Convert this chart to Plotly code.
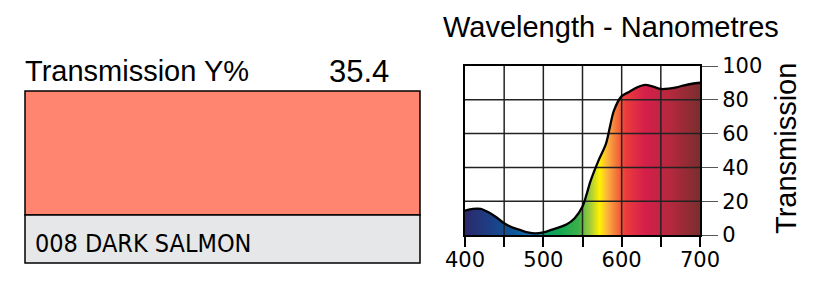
import plotly.graph_objects as go

W, H = 827, 283

# ---- data ----
wavelength = [400, 410, 420, 430, 440, 450, 460, 470, 480, 490, 500, 510, 520, 530, 540,
              550, 555, 560, 570, 580, 590, 600, 610, 620, 630, 640, 650, 660, 670, 680, 690, 700]
transmission = [14.4, 15.4, 15.4, 13.4, 10.5, 6.9, 4.5, 3.0, 1.6, 1.0, 1.6, 3.0, 4.5, 6.3, 9.9,
                 16.8, 23.7, 31.6, 43.6, 54.0, 73.5, 82.2, 84.8, 87.4, 88.8, 87.8, 86.4, 86.6, 87.4, 88.6, 89.5, 90.1]
x_tick_labels = [400, 500, 600, 700]
y_tick_labels = [0, 20, 40, 60, 80, 100]
grid_x = [450, 500, 550, 600, 650]
grid_y = [20, 40, 60, 80]

filter_name = "008 DARK SALMON"
y_percent = "35.4"
swatch_color = "#FF8571"

# spectrum colours (wavelength -> colour)
spec_nm = [400, 430, 460, 490, 502, 520, 545, 560, 572, 582, 595, 605, 630, 660, 700]
spec_col = ["#2b2a6a", "#1e3d85", "#0d5597", "#0b77bb", "#0a9a6a", "#10a650", "#3cb049",
            "#a5cd3a", "#fff200", "#fbb040", "#f26b3a", "#ec3c3c", "#d41f4a", "#b8283e", "#7a2e2e"]
colorscale = [[(n - 400) / 300, c] for n, c in zip(spec_nm, spec_col)]

fig = go.Figure()

fig.add_trace(go.Scatter(
    x=wavelength, y=transmission, mode="lines",
    line=dict(shape="spline", smoothing=0.8, width=0, color="rgba(0,0,0,0)"),
    fill="tozeroy",
    fillgradient=dict(type="horizontal", colorscale=colorscale, start=400, stop=700),
    hoverinfo="skip", showlegend=False))

# grid lines drawn over the fill
gx, gy = [], []
for v in grid_x:
    gx += [v, v, None]
    gy += [0, 100, None]
for v in grid_y:
    gx += [400, 700, None]
    gy += [v, v, None]
fig.add_trace(go.Scatter(x=gx, y=gy, mode="lines", line=dict(color="#222222", width=1.5),
                         hoverinfo="skip", showlegend=False))

fig.add_trace(go.Scatter(
    x=wavelength, y=transmission, mode="lines",
    line=dict(shape="spline", smoothing=0.8, width=2.3, color="black"),
    hoverinfo="skip", showlegend=False))

def px(x):
    return x / W

def py(y):
    return 1 - y / H

tick_font = dict(family="DejaVu Sans", size=21, color="black")

fig.update_layout(
    width=W, height=H, margin=dict(l=0, r=0, t=0, b=0, pad=0, autoexpand=False),
    paper_bgcolor="white", plot_bgcolor="white",
    xaxis=dict(domain=[px(465), px(700)], range=[400, 700], showgrid=False, zeroline=False,
               automargin=False,
               showline=True, linecolor="black", linewidth=2, mirror=True,
               tickmode="array", tickvals=x_tick_labels, ticktext=[str(v) for v in x_tick_labels],
               ticks="outside", ticklen=10, tickwidth=1.5, tickcolor="black",
               minor=dict(ticks="outside", ticklen=10, tickwidth=1.5, tickcolor="black",
                          tickmode="array", tickvals=grid_x),
               ticklabelstandoff=-5,
               tickfont=tick_font, fixedrange=True),
    yaxis=dict(domain=[py(235), py(66)], range=[0, 100], side="right", showgrid=False, zeroline=False,
               automargin=False,
               showline=True, linecolor="black", linewidth=2, mirror=True,
               tickmode="array", tickvals=y_tick_labels, ticktext=[str(v) for v in y_tick_labels],
               ticks="outside", ticklen=16, tickwidth=1, tickcolor="#555555",
               tickfont=tick_font, fixedrange=True),
    font=dict(family="Liberation Sans", color="black"),
)

# left panel: swatch and name box
fig.add_shape(type="rect", xref="paper", yref="paper", x0=px(25), x1=px(420), y0=py(215), y1=py(91),
              fillcolor=swatch_color, line=dict(color="black", width=1.5), layer="below")
fig.add_shape(type="rect", xref="paper", yref="paper", x0=px(25), x1=px(420), y0=py(263), y1=py(215),
              fillcolor="#E6E7E8", line=dict(color="black", width=1.5), layer="below")

fig.add_annotation(xref="paper", yref="paper", x=px(23), y=py(71), xanchor="left", yanchor="middle",
                   text="Transmission Y%", showarrow=False,
                   font=dict(family="Liberation Sans", size=29, color="black"))
fig.add_annotation(xref="paper", yref="paper", x=px(391), y=py(71), xanchor="right", yanchor="middle",
                   text=y_percent, showarrow=False,
                   font=dict(family="Liberation Sans", size=31, color="black"))
fig.add_annotation(xref="paper", yref="paper", x=px(33), y=py(243), xanchor="left", yanchor="middle",
                   text=filter_name, showarrow=False,
                   font=dict(family="DejaVu Sans Condensed, Liberation Sans", size=25, color="black"))
fig.add_annotation(xref="paper", yref="paper", x=px(441), y=py(27), xanchor="left", yanchor="middle",
                   text="Wavelength - Nanometres", showarrow=False,
                   font=dict(family="Liberation Sans", size=29, color="black"))
fig.add_annotation(xref="paper", yref="paper", x=px(786), y=py(149), xanchor="center", yanchor="middle",
                   text="Transmission", textangle=-90, showarrow=False,
                   font=dict(family="Liberation Sans", size=29, color="black"))

fig.write_html("out.html")
